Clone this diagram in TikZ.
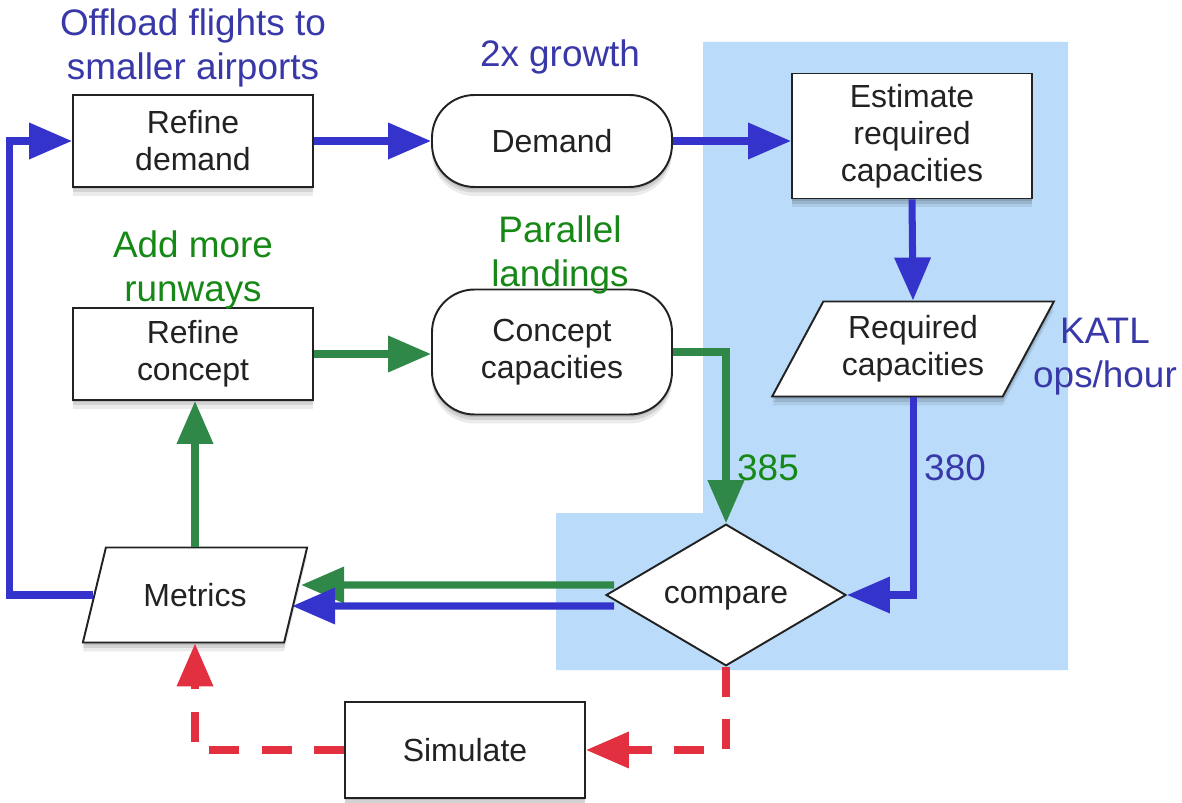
\documentclass[tikz,border=0pt]{standalone}
\usepackage{fontspec}
\setmainfont{Liberation Sans}
\usetikzlibrary{shapes.geometric,arrows.meta,shadows,calc}

\definecolor{panel}{RGB}{186,220,250}
\definecolor{flowblue}{RGB}{52,52,204}
\definecolor{flowgreen}{RGB}{48,136,72}
\definecolor{flowred}{RGB}{226,48,64}
\definecolor{noteblue}{RGB}{56,56,168}
\definecolor{notegreen}{RGB}{22,136,22}
\definecolor{ink}{RGB}{34,34,34}

\begin{document}
\begin{tikzpicture}[x=0.02cm,y=-0.02cm,
  softshadow/.style={
    general shadow={shadow yshift=-0.05cm,opacity=0.11,fill=black},
    general shadow={shadow yshift=-0.11cm,opacity=0.10,fill=black},
    general shadow={shadow yshift=-0.18cm,opacity=0.08,fill=black}},
  shape base/.style={draw=ink, line width=1.1pt, fill=white, text=ink,
    font=\fontsize{18.2}{21}\selectfont, align=center, inner sep=2pt},
  procbox/.style={shape base, softshadow, rectangle, minimum width=4.8cm, minimum height=1.84cm},
  termbox/.style={shape base, softshadow, rectangle, rounded corners=0.85cm, minimum width=4.8cm},
  databox/.style={shape base, softshadow, trapezium, trapezium stretches=true},
  decisionbox/.style={shape base, diamond, minimum width=4.8cm, minimum height=1.92cm, inner sep=0pt},
  flow/.style={line width=4pt, -{Triangle[length=0.86cm,width=0.7cm]}},
  blueflow/.style={flow, draw=flowblue},
  greenflow/.style={flow, draw=flowgreen},
  redflow/.style={flow, draw=flowred, dash pattern=on 0.6cm off 0.45cm},
  note/.style={font=\fontsize{21}{25}\selectfont, align=center, inner sep=0pt},
  bluenote/.style={note, text=noteblue},
  greennote/.style={note, text=notegreen}]

\useasboundingbox (0,0) rectangle (1182,803);

% shaded region behind the capacity estimation and comparison
\fill[panel] (703,42) -- (1068,42) -- (1068,670) -- (556,670) -- (556,513) -- (703,513) -- cycle;

% process nodes
\node[procbox] (rd) at (193,141) {Refine\\demand};
\node[termbox, minimum height=1.84cm] (dem) at (552,141) {Demand};
\node[procbox, minimum height=2.5cm] (est) at (912,136) {Estimate\\required\\capacities};
\node[procbox] (rc) at (193,354) {Refine\\concept};
\node[termbox, minimum height=2.5cm] (cc) at (552,352) {Concept\\capacities};
\node[databox, trapezium left angle=60, trapezium right angle=120,
      minimum width=5.64cm, minimum height=1.9cm] (req) at (913,349) {Required\\capacities};
\node[decisionbox, text depth=0pt] (cmp) at (726,595) {compare};
\node[databox, trapezium left angle=65, trapezium right angle=115,
      minimum width=4.52cm, minimum height=1.9cm] (met) at (195,595) {Metrics};
\node[procbox, minimum height=1.92cm] (sim) at (465,750) {Simulate};

% annotations
\node[bluenote] (offload) at (193,48) {Offload flights to\\smaller airports};
\node[bluenote] (growth) at (560,57) {2x growth};
\node[greennote] (runways) at (193,270) {Add more\\runways};
\node[greennote] (parallel) at (560,255) {Parallel\\landings};
\node[bluenote] (katl) at (1105,357) {KATL\\ops/hour};
\node[greennote] (v385) at (768,468) {385};
\node[bluenote] (v380) at (955,468) {380};

% demand path
\draw[blueflow] (rd.east) -- (dem.west);
\draw[blueflow] (dem.east) -- (dem.east -| est.west);
\draw[blueflow] (est.south) -- (req.north);
\draw[blueflow] (req.south) |- (cmp.east);

% concept path
\draw[greenflow] (rc.east) -- (rc.east -| cc.west);
\draw[greenflow] (cc.east) -| (cmp.north);

% comparison results back to the metrics
\draw[greenflow] ([xshift=0.18cm,yshift=0.2cm]cmp.west) -- ([xshift=0.09cm,yshift=0.2cm]met.east);
\draw[blueflow] ([xshift=0.18cm,yshift=-0.22cm]cmp.west) -- ([xshift=-0.09cm,yshift=-0.22cm]met.east);

% refinement loops
\draw[greenflow] (met.center |- met.north) -- (met.center |- rc.south);
\draw[blueflow] (met.west) -- ++(-1.67cm,0) |- (rd.west);

% simulation loop
\draw[redflow] (cmp.south) |- (sim.east);
\draw[redflow] (sim.west) -| (met.center |- met.south);

\end{tikzpicture}
\end{document}
